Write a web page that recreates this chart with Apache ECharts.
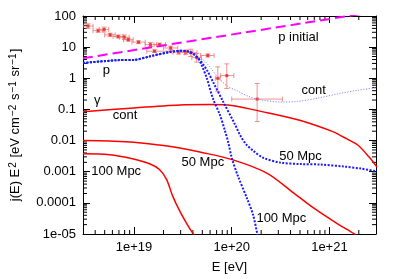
<!DOCTYPE html>
<html><head><meta charset="utf-8">
<script src="https://cdn.jsdelivr.net/npm/echarts@6/dist/echarts.min.js"></script>
<style>html,body{margin:0;padding:0;background:#fff}#c{width:399px;height:279px}</style>
</head><body><div id="c"></div>
<script>
// ---- axis ranges and tick labels ----
const E_MIN = 3e18, E_MAX = 3e21;
const J_MIN = 1e-5, J_MAX = 100;
const xTickValues = [1e19, 1e20, 1e21];
const xTickLabels = ['1e+19', '1e+20', '1e+21'];
const yTickValues = [1e-5, 1e-4, 1e-3, 1e-2, 0.1, 1, 10, 100];
const yTickLabels = ['1e-05', '0.0001', '0.001', '0.01', '0.1', '1', '10', '100'];

// ---- p initial (magenta dashed) ----
const pInitE = [3e18, 3e21];
const pInitJ = [4.4, 139];

// ---- protons, continuous sources (light blue dotted) ----
const pContE = [3e18, 6.6e18, 1e19, 1.47e19, 2.37e19, 2.93e19, 3.54e19, 4.0e19, 4.5e19, 5.06e19, 5.97e19, 7.2e19, 9.1e19, 1.13e20, 1.54e20, 2.05e20, 3.15e20, 4.7e20, 7.6e20, 1.3e21, 1.95e21, 3.07e21];
const pContJ = [3.1, 3.8, 3.9, 5.1, 7.1, 7.6, 7.4, 6.2, 4.5, 4.0, 2.33, 1.09, 0.55, 0.4, 0.25, 0.2, 0.173, 0.18, 0.23, 0.33, 0.41, 0.51];

// ---- protons, 50 Mpc (blue dotted) ----
const p50E = [3e18, 6.6e18, 1e19, 1.47e19, 2.37e19, 2.93e19, 3.54e19, 4.0e19, 4.5e19, 5.06e19, 5.69e19, 6.4e19, 8.1e19, 1.08e20, 1.22e20, 1.4e20, 1.66e20, 2.1e20, 3.15e20, 5.06e20, 8.1e20, 1.4e21, 2.1e21, 3.07e21];
const p50J = [3.1, 3.8, 3.9, 5.1, 7.1, 7.6, 7.4, 6.2, 4.5, 2.9, 1.63, 0.79, 0.186, 0.033, 0.0148, 0.0077, 0.0047, 0.0028, 0.00196, 0.00176, 0.0017, 0.00147, 0.00126, 0.00102];

// ---- protons, 100 Mpc (blue dotted) ----
const p100E = [3e18, 6.6e18, 1e19, 1.47e19, 2.37e19, 2.93e19, 3.54e19, 4.0e19, 4.5e19, 4.9e19, 5.56e19, 6.4e19, 7.57e19, 8.5e19, 9.2e19, 1.0e20, 1.16e20, 1.44e20, 1.66e20, 1.82e20, 1.9e20];
const p100J = [3.1, 3.8, 3.9, 5.1, 7.1, 7.6, 7.4, 6.2, 4.5, 2.7, 1.0, 0.23, 0.067, 0.0213, 0.0089, 0.0028, 0.00071, 0.000135, 4e-5, 1.07e-5, 6.4e-6];

// ---- photons (red solid) ----
const gContE = [3e18, 1e19, 2.93e19, 5.97e19, 1e20, 2.31e20, 5.06e20, 1.1e21, 1.4e21, 1.95e21, 2.54e21, 3.07e21];
const gContJ = [0.084, 0.112, 0.139, 0.144, 0.134, 0.078, 0.044, 0.019, 0.0128, 0.0072, 0.003, 0.0014];
const g50E = [3e18, 5.6e18, 1e19, 1.82e19, 2.93e19, 4.71e19, 1.03e20, 2.31e20, 4.29e20, 7.0e20, 1.19e21, 1.8e21, 2.66e21];
const g50J = [0.01, 0.0096, 0.0089, 0.0072, 0.0058, 0.0043, 0.0024, 0.00089, 0.00021, 6.6e-5, 2.2e-5, 1e-5, 4.5e-6];
const g100E = [3e18, 5.6e18, 9.6e18, 1.44e19, 1.82e19, 2.15e19, 2.48e19, 2.93e19, 3.45e19, 4.0e19, 4.4e19];
const g100J = [0.00375, 0.0035, 0.0026, 0.0018, 0.00118, 0.00057, 0.000168, 5.5e-5, 2.2e-5, 1.05e-5, 7e-6];

// ---- observed data with error bars ----
const obsE   = [3.38e18, 4.29e18, 4.94e18, 5.69e18, 6.88e18, 7.94e18, 8.73e18, 1.11e19, 1.47e19, 1.62e19, 1.82e19, 2.37e19, 2.86e19, 3.38e19, 3.8e19, 4.38e19, 5.69e19, 7.2e19, 8.9e19, 1.82e20];
const obsJ   = [47.5, 33.8, 37.1, 24.8, 21.9, 20.8, 17.3, 14.5, 12.0, 7.4, 12.0, 9.4, 6.9, 6.9, 6.6, 4.6, 5.4, 1.0, 1.22, 0.215];
const obsElo = [3.0e18, 3.8e18, 4.4e18, 5.0e18, 6.1e18, 7.1e18, 7.8e18, 9.5e18, 1.3e19, 1.35e19, 1.6e19, 2.0e19, 2.5e19, 2.9e19, 3.3e19, 3.9e19, 4.8e19, 6.8e19, 7.7e19, 1.0e20];
const obsEhi = [3.8e18, 4.8e18, 5.5e18, 6.4e18, 7.7e18, 8.9e18, 9.8e18, 1.3e19, 1.7e19, 2.4e19, 2.1e19, 2.8e19, 3.3e19, 4.0e19, 4.4e19, 4.9e19, 6.6e19, 7.6e19, 1.05e20, 3.3e20];
const obsJlo = [40, 30, 31, 22, 19.5, 17.5, 15.5, 13, 10.5, 6.7, 10.5, 8.2, 6.0, 5.9, 5.0, 3.3, 4.8, 0.38, 0.47, 0.041];
const obsJhi = [56, 38, 44, 28, 24.5, 24.5, 19.5, 16, 14, 8.2, 13.5, 10.8, 7.8, 8.1, 8.6, 6.3, 6.1, 2.33, 2.9, 0.68];

// ---- in-plot labels (text and data-space anchor) ----
const labelText = ['p initial', 'cont', 'p', 'γ', 'cont', '50 Mpc', '100 Mpc', '50 Mpc', '100 Mpc'];
const labelE    = [4.82e20, 6.9e20, 5.2e18, 4.2e18, 8.1e18, 5.06e19, 6.56e18, 5.06e20, 3.22e20];
const labelJ    = [20.4, 0.41, 1.75, 0.2, 0.063, 0.00196, 0.00102, 0.003, 3.2e-5];

const FONT = '"Liberation Sans", Arial, Helvetica, sans-serif';
const zip = (a, b) => a.map((v, i) => [v, b[i]]);
function tickFormatter(values, labels) {
  return function (v) {
    const i = values.findIndex(t => Math.abs(Math.log10(t) - Math.log10(v)) < 1e-6);
    return i < 0 ? '' : labels[i];
  };
}
function minorTicks(lo, hi) {
  const out = [];
  for (let n = Math.floor(Math.log10(lo)); n <= Math.ceil(Math.log10(hi)); n++) {
    for (let k = 2; k <= 9; k++) {
      const v = k * Math.pow(10, n);
      if (v > lo * 1.0001 && v < hi * 0.9999) out.push(v);
    }
  }
  return out;
}

function axisBase(extra) {
  return Object.assign({
    type: 'log', logBase: 10,
    axisLine: { show: true, lineStyle: { color: '#000', width: 1 } },
    axisTick: { show: true, inside: true, length: 7, lineStyle: { color: '#000', width: 1 } },
    splitLine: { show: false },
    minorTick: { show: false },
    axisLabel: { show: false }
  }, extra);
}

const lineSeries = (name, E, J, color, width, dash, z) => ({
  name, type: 'line', data: zip(E, J), showSymbol: false, smooth: 0.3,
  clip: true, z: z, silent: true,
  lineStyle: { color, width, type: dash }
});

const chart = echarts.init(document.getElementById('c'), null, { renderer: 'canvas' });
chart.setOption({
  animation: false,
  textStyle: { fontFamily: FONT },
  grid: { left: 83, right: 23, top: 16, bottom: 40 },
  xAxis: [
    axisBase({
      min: E_MIN, max: E_MAX, position: 'bottom',
      axisLabel: { show: true, color: '#000', fontSize: 13, fontFamily: FONT, margin: 7,
                   formatter: tickFormatter(xTickValues, xTickLabels) },
      name: 'E [eV]', nameLocation: 'middle', nameGap: 27,
      nameTextStyle: { color: '#000', fontSize: 13, fontFamily: FONT }
    }),
    axisBase({ min: E_MIN, max: E_MAX, position: 'top' })
  ],
  yAxis: [
    axisBase({
      min: J_MIN, max: J_MAX, position: 'left',
      axisLabel: { show: true, color: '#000', fontSize: 13, fontFamily: FONT, margin: 7,
                   formatter: tickFormatter(yTickValues, yTickLabels) },
      name: '{m|j(E) E}{s|2}{m| [eV cm}{s|−2}{m| s}{s|−1}{m| sr}{s|−1}{m|]}',
      nameLocation: 'middle', nameGap: 54,
      nameTextStyle: {
        color: '#000', fontSize: 13, fontFamily: FONT,
        rich: {
          m: { fontSize: 13, fontFamily: FONT, color: '#000', lineHeight: 14, verticalAlign: 'bottom' },
          s: { fontSize: 10, fontFamily: FONT, color: '#000', lineHeight: 10, verticalAlign: 'top', padding: [0, 1, 7, 1] }
        }
      }
    }),
    axisBase({ min: J_MIN, max: J_MAX, position: 'right' })
  ],
  series: [
    {
      name: 'xminor', type: 'custom', silent: true, z: 1,
      data: minorTicks(E_MIN, E_MAX).map(v => [v, 1]),
      encode: { x: 0, y: 1 },
      renderItem: function (params, api) {
        const v = api.value(0);
        const b = api.coord([v, J_MIN]);
        const t = api.coord([v, J_MAX]);
        return { type: 'group', children: [
          { type: 'line', shape: { x1: b[0], y1: b[1], x2: b[0], y2: b[1] - 4 }, style: { stroke: '#000', lineWidth: 1 } },
          { type: 'line', shape: { x1: t[0], y1: t[1], x2: t[0], y2: t[1] + 4 }, style: { stroke: '#000', lineWidth: 1 } }
        ] };
      }
    },
    {
      name: 'yminor', type: 'custom', silent: true, z: 1,
      data: minorTicks(J_MIN, J_MAX).map(v => [1e19, v]),
      encode: { x: 0, y: 1 },
      renderItem: function (params, api) {
        const v = api.value(1);
        const l = api.coord([E_MIN, v]);
        const r = api.coord([E_MAX, v]);
        return { type: 'group', children: [
          { type: 'line', shape: { x1: l[0], y1: l[1], x2: l[0] + 4, y2: l[1] }, style: { stroke: '#000', lineWidth: 1 } },
          { type: 'line', shape: { x1: r[0], y1: r[1], x2: r[0] - 4, y2: r[1] }, style: { stroke: '#000', lineWidth: 1 } }
        ] };
      }
    },
    {
      name: 'data', type: 'custom', z: 2, clip: true, silent: true,
      data: obsE.map((e, i) => [e, obsJ[i], obsElo[i], obsEhi[i], obsJlo[i], obsJhi[i]]),
      encode: { x: 0, y: 1 },
      renderItem: function (params, api) {
        const c = api.coord([api.value(0), api.value(1)]);
        const xl = api.coord([api.value(2), api.value(1)]);
        const xh = api.coord([api.value(3), api.value(1)]);
        const yl = api.coord([api.value(0), api.value(4)]);
        const yh = api.coord([api.value(0), api.value(5)]);
        const st = { stroke: 'rgba(238,110,110,0.75)', lineWidth: 1 };
        const cap = 2.5;
        return { type: 'group', children: [
          { type: 'line', shape: { x1: xl[0], y1: c[1], x2: xh[0], y2: c[1] }, style: st },
          { type: 'line', shape: { x1: c[0], y1: yl[1], x2: c[0], y2: yh[1] }, style: st },
          { type: 'line', shape: { x1: xl[0], y1: c[1] - cap, x2: xl[0], y2: c[1] + cap }, style: st },
          { type: 'line', shape: { x1: xh[0], y1: c[1] - cap, x2: xh[0], y2: c[1] + cap }, style: st },
          { type: 'line', shape: { x1: c[0] - cap, y1: yl[1], x2: c[0] + cap, y2: yl[1] }, style: st },
          { type: 'line', shape: { x1: c[0] - cap, y1: yh[1], x2: c[0] + cap, y2: yh[1] }, style: st },
          { type: 'rect', shape: { x: c[0] - 1.5, y: c[1] - 1.5, width: 3, height: 3 }, style: { fill: 'rgba(230,40,40,0.85)' } }
        ] };
      }
    },
    lineSeries('gamma cont', gContE, gContJ, '#ff0000', 1.5, 'solid', 3),
    lineSeries('gamma 50', g50E, g50J, '#ff0000', 1.5, 'solid', 3),
    lineSeries('gamma 100', g100E, g100J, '#ff0000', 1.5, 'solid', 3),
    lineSeries('p cont', pContE, pContJ, '#8a8aff', 1, [1.2, 1.5], 4),
    lineSeries('p 50', p50E, p50J, '#1a1aff', 2, [2, 1.5], 5),
    lineSeries('p 100', p100E, p100J, '#1a1aff', 2, [2, 1.5], 5),
    lineSeries('p initial', pInitE, pInitJ, '#ff00ff', 2, [10, 5], 6),
    {
      name: 'labels', type: 'scatter', z: 7, silent: true,
      symbolSize: 1, itemStyle: { color: 'rgba(0,0,0,0)' },
      data: labelText.map((t, i) => ({ name: t, value: [labelE[i], labelJ[i]] })),
      label: { show: true, position: 'inside', formatter: p => p.name, opacity: 1,
               color: '#000', fontSize: 13, fontFamily: FONT, textBorderWidth: 0 }
    }
  ]
});
</script></body></html>
